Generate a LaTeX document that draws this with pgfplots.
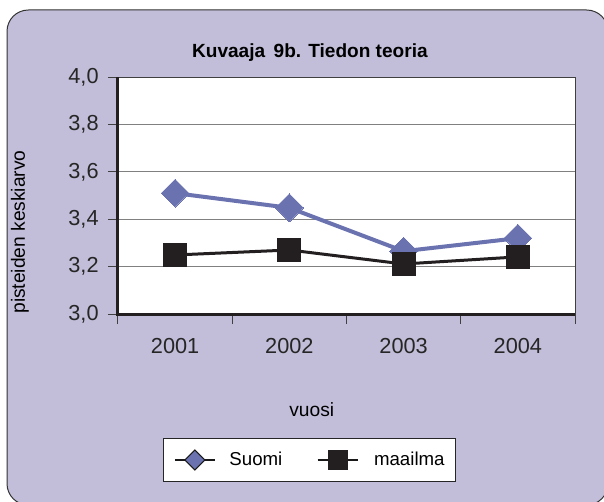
\documentclass[border=0pt]{standalone}
\usepackage{pgfplots}
\pgfplotsset{compat=1.18}
\usepackage{fontspec}
\setmainfont{Liberation Sans}
\definecolor{bgl}{RGB}{194,190,217}
\definecolor{suomi}{RGB}{106,115,176}
\definecolor{musta}{RGB}{35,31,32}
\begin{document}
\begin{tikzpicture}[x=0.75pt,y=0.75pt]
\useasboundingbox (0,0) rectangle (604,501);
\begin{scope}
\clip (0,0) rectangle (604,501);
\fill[white] (0,0) rectangle (604,501);
\draw[fill=bgl, draw=black!80, line width=0.75pt, rounded corners=16pt] (7,-4) rectangle (608,491);
\end{scope}
\begin{axis}[
  at={(88.5pt,140.25pt)}, anchor=south west, scale only axis,
  width=342.75pt, height=177.75pt,
  xmin=-0.5, xmax=3.5, ymin=3, ymax=4,
  axis background/.style={fill=white},
  axis line style={draw=black!75, line width=0.75pt},
  xtick={0,1,2,3}, xticklabels={2001,2002,2003,2004},
  minor xtick={-0.5,0.5,1.5,2.5,3.5},
  ytick={3,3.2,3.4,3.6,3.8,4},
  xtick pos=bottom, ytick pos=left,
  tick align=outside,
  major tick length=7.5pt, minor tick length=7.5pt,
  major x tick style={draw=none},
  tick style={draw=black!75, line width=0.75pt},
  ymajorgrids, major grid style={draw=black!50, line width=0.75pt},
  /pgf/number format/assume math mode=true,
  /pgf/number format/use comma,
  /pgf/number format/fixed,
  /pgf/number format/fixed zerofill,
  /pgf/number format/precision=1,
  tick label style={font=\fontsize{16.3}{18}\selectfont, text=black!85},
  xticklabel style={anchor=base, yshift=-22pt},
  yticklabel style={anchor=east, xshift=-3.5pt},
  title={\textbf{Kuvaaja\, 9b. Tiedon teoria}},
  title style={at={(axis description cs:0.42,1.084)}, anchor=base, yshift=-6pt, font=\fontsize{14.3}{16}\selectfont},
  ylabel={pisteiden keskiarvo},
  ylabel style={at={(axis description cs:-0.2144,0.346)}, anchor=center, rotate=0, font=\fontsize{14.4}{16}\selectfont},
  xlabel={vuosi},
  xlabel style={at={(axis description cs:0.424,-0.405)}, anchor=center, font=\fontsize{14.4}{16}\selectfont},
  legend columns=2,
  legend style={at={(axis description cs:0.419,-0.616)}, anchor=center,
    draw=black!85, line width=0.75pt, fill=white,
    font=\fontsize{14}{16}\selectfont,
    inner xsep=8.5pt, inner ysep=8pt,
    nodes={inner sep=0pt},
    /tikz/column 1/.style={column sep=10.5pt},
    /tikz/column 2/.style={column sep=26pt},
    /tikz/column 3/.style={column sep=12pt}},
  clip=false,
]
\addplot[color=suomi, line width=3pt, mark=square*, mark size=7.4pt,
  mark options={rotate=45, fill=suomi, draw=suomi, line width=0pt},
  legend image code/.code={
    \draw[black!90, line width=0.8pt] (0pt,0pt) -- (30pt,0pt);
    \draw[fill=suomi, draw=black!90, line width=0.8pt] (7.5pt,0pt) -- (15pt,7.5pt) -- (22.5pt,0pt) -- (15pt,-7.5pt) -- cycle;
  }]
coordinates {(0,3.51) (1,3.448) (2,3.265) (3,3.32)};
\addlegendentry{Suomi}
\addplot[color=musta, line width=2.25pt, mark=square*, mark size=8.6pt,
  mark options={fill=musta, draw=musta, line width=0pt},
  legend image code/.code={
    \draw[black!90, line width=0.8pt] (0pt,0pt) -- (30pt,0pt);
    \fill[musta] (8.6pt,-6.4pt) rectangle (21.4pt,6.4pt);
  }]
coordinates {(0,3.249) (1,3.27) (2,3.211) (3,3.241)};
\addlegendentry{maailma}
\draw[musta, line width=2.25pt] (rel axis cs:0,1) -- (rel axis cs:0,0) -- (rel axis cs:1,0);
\end{axis}
\end{tikzpicture}
\end{document}
